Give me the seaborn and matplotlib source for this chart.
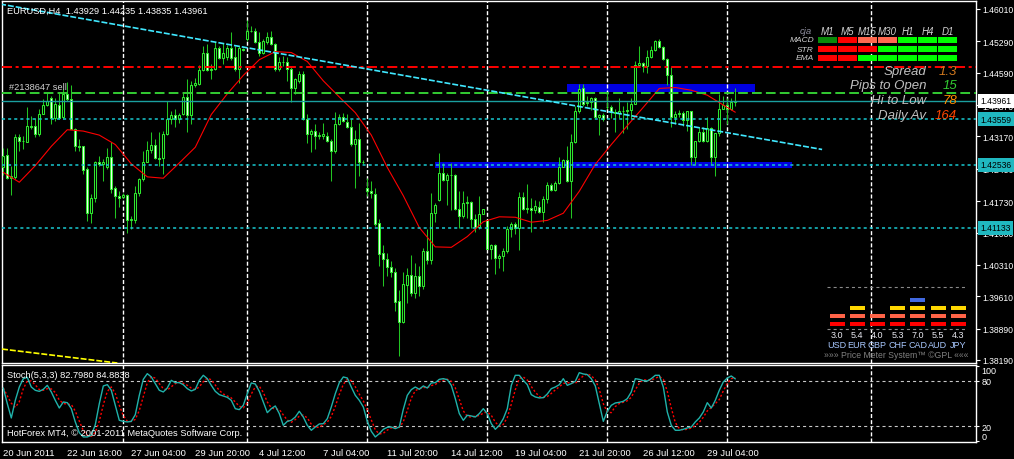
import matplotlib
matplotlib.use("Agg")
import matplotlib.pyplot as plt
import matplotlib.transforms as mtransforms
from matplotlib.patches import Rectangle
import numpy as np
import pandas as pd
import seaborn as sns

# ---------------------------------------------------------------------------
# EURUSD H4 candles, 20 Jun 2011 .. 1 Aug 2011 (prices x 10000)
# ---------------------------------------------------------------------------
opens = [
    14248, 14275, 14225, 14227, 14315, 14307, 14305, 14341, 14341, 14322,
    14368, 14388, 14402, 14359, 14388, 14361, 14411, 14400, 14333, 14296,
    14295, 14244, 14147, 14181, 14261, 14255, 14248, 14272, 14202, 14185,
    14183, 14187, 14130, 14130, 14192, 14222, 14260, 14287, 14298, 14268,
    14268, 14322, 14356, 14365, 14356, 14367, 14404, 14364, 14431, 14434,
    14465, 14502, 14465, 14467, 14515, 14491, 14493, 14513, 14493, 14467,
    14512, 14534, 14552, 14552, 14528, 14503, 14528, 14538, 14523, 14467,
    14482, 14483, 14467, 14426, 14441, 14456, 14356, 14322, 14330, 14318,
    14317, 14317, 14307, 14285, 14344, 14361, 14350, 14337, 14300, 14312,
    14259, 14203, 14196, 14188, 14124, 14057, 14045, 14027, 14014, 13950,
    13904, 13986, 14008, 13969, 14006, 13983, 14061, 14042, 14147, 14176,
    14235, 14220, 14231, 14231, 14156, 14140, 14168, 14172, 14134, 14116,
    14145, 14131, 14067, 14075, 14047, 14050, 14061, 14110, 14123, 14112,
    14183, 14156, 14158, 14153, 14160, 14149, 14177, 14208, 14198, 14213,
    14250, 14264, 14218, 14304, 14374, 14424, 14391, 14393, 14403, 14361,
    14364, 14382, 14382, 14372, 14369, 14374, 14373, 14375, 14390, 14476,
    14480, 14473, 14495, 14510, 14529, 14517, 14489, 14454, 14361, 14366,
    14370, 14354, 14373, 14272, 14306, 14328, 14308, 14336, 14272, 14324,
    14379, 14386, 14378, 14393,
]
highs = [
    14292, 14292, 14251, 14322, 14322, 14318, 14382, 14363, 14359, 14378,
    14400, 14416, 14408, 14402, 14415, 14422, 14439, 14431, 14335, 14311,
    14296, 14248, 14188, 14263, 14274, 14266, 14292, 14304, 14207, 14196,
    14192, 14188, 14140, 14207, 14225, 14285, 14307, 14326, 14311, 14326,
    14330, 14396, 14374, 14378, 14370, 14416, 14445, 14441, 14448, 14476,
    14519, 14523, 14478, 14528, 14519, 14526, 14520, 14550, 14519, 14519,
    14513, 14577, 14564, 14558, 14549, 14535, 14549, 14552, 14526, 14493,
    14497, 14493, 14471, 14448, 14463, 14463, 14367, 14333, 14344, 14326,
    14347, 14326, 14311, 14372, 14367, 14370, 14367, 14356, 14332, 14348,
    14265, 14225, 14218, 14203, 14134, 14075, 14058, 14040, 14023, 13975,
    14014, 14023, 14052, 14036, 14029, 14069, 14110, 14191, 14168, 14280,
    14257, 14235, 14257, 14233, 14196, 14196, 14185, 14173, 14144, 14185,
    14156, 14131, 14077, 14077, 14055, 14069, 14118, 14127, 14127, 14194,
    14194, 14211, 14179, 14176, 14173, 14185, 14216, 14214, 14218, 14272,
    14266, 14295, 14322, 14385, 14434, 14434, 14408, 14406, 14406, 14367,
    14370, 14413, 14387, 14378, 14403, 14385, 14393, 14402, 14486, 14519,
    14483, 14510, 14519, 14532, 14535, 14519, 14491, 14471, 14374, 14376,
    14374, 14373, 14374, 14307, 14337, 14337, 14361, 14337, 14324, 14411,
    14408, 14402, 14402, 14424,
]
lows = [
    14231, 14222, 14187, 14222, 14285, 14289, 14304, 14333, 14315, 14318,
    14367, 14385, 14344, 14352, 14356, 14356, 14396, 14333, 14285, 14285,
    14233, 14129, 14124, 14170, 14251, 14218, 14244, 14192, 14136, 14159,
    14181, 14103, 14110, 14125, 14185, 14218, 14259, 14281, 14266, 14251,
    14233, 14320, 14344, 14337, 14348, 14364, 14326, 14344, 14428, 14431,
    14463, 14463, 14445, 14465, 14489, 14478, 14488, 14488, 14463, 14437,
    14508, 14530, 14549, 14526, 14497, 14500, 14523, 14520, 14463, 14463,
    14474, 14441, 14394, 14411, 14437, 14354, 14302, 14283, 14289, 14311,
    14311, 14304, 14218, 14281, 14342, 14350, 14335, 14296, 14203, 14229,
    14255, 14185, 14179, 14118, 14029, 13983, 14006, 14003, 13928, 13829,
    13902, 13945, 13962, 13958, 13962, 13977, 14032, 14032, 14127, 14173,
    14218, 14164, 14153, 14153, 14112, 14136, 14136, 14112, 14104, 14110,
    14144, 14066, 14045, 14010, 14023, 14017, 14058, 14094, 14099, 14064,
    14153, 14147, 14104, 14147, 14147, 14127, 14168, 14196, 14196, 14211,
    14248, 14216, 14136, 14302, 14369, 14385, 14385, 14376, 14359, 14320,
    14352, 14378, 14359, 14327, 14359, 14324, 14333, 14356, 14389, 14471,
    14460, 14458, 14491, 14508, 14513, 14488, 14431, 14337, 14344, 14361,
    14341, 14330, 14253, 14253, 14304, 14305, 14305, 14253, 14228, 14317,
    14378, 14344, 14376, 14384,
]
closes = [
    14274, 14225, 14228, 14315, 14307, 14307, 14341, 14337, 14322, 14368,
    14388, 14396, 14359, 14389, 14359, 14411, 14400, 14333, 14296, 14294,
    14243, 14147, 14181, 14261, 14255, 14259, 14272, 14199, 14185, 14179,
    14186, 14130, 14133, 14192, 14222, 14260, 14286, 14298, 14268, 14266,
    14322, 14356, 14365, 14356, 14365, 14404, 14364, 14431, 14435, 14465,
    14502, 14465, 14468, 14515, 14491, 14502, 14513, 14491, 14467, 14513,
    14510, 14552, 14551, 14528, 14503, 14530, 14538, 14523, 14467, 14482,
    14484, 14467, 14426, 14445, 14456, 14356, 14322, 14330, 14317, 14321,
    14322, 14307, 14285, 14344, 14361, 14352, 14337, 14300, 14312, 14259,
    14260, 14196, 14191, 14121, 14055, 14043, 14026, 14014, 13948, 13904,
    13988, 14008, 13969, 14006, 13983, 14061, 14042, 14147, 14164, 14235,
    14220, 14231, 14231, 14156, 14140, 14168, 14172, 14134, 14116, 14145,
    14155, 14067, 14075, 14047, 14050, 14061, 14110, 14123, 14112, 14183,
    14156, 14158, 14153, 14161, 14149, 14177, 14208, 14198, 14213, 14250,
    14264, 14218, 14304, 14374, 14422, 14389, 14393, 14403, 14361, 14364,
    14356, 14383, 14372, 14369, 14374, 14373, 14375, 14390, 14476, 14480,
    14473, 14495, 14510, 14529, 14517, 14489, 14454, 14361, 14366, 14370,
    14354, 14373, 14272, 14306, 14328, 14308, 14336, 14272, 14324, 14379,
    14386, 14378, 14393, 14396,
]
last_quote = [1.43929, 1.44235, 1.43835, 1.43961]

# red moving average, read every 4th bar
ma_bars = list(range(0, 181, 4)) + [183]
ma_vals = [
    14237, 14215, 14252, 14295, 14332, 14329, 14320, 14299, 14256, 14227,
    14224, 14258, 14293, 14366, 14412, 14453, 14488, 14506, 14504, 14484,
    14441, 14405, 14370, 14320, 14248, 14185, 14114, 14071, 14070, 14094,
    14127, 14138, 14137, 14126, 14130, 14146, 14195, 14255, 14299, 14341,
    14382, 14424, 14426, 14420, 14409, 14387, 14371,
]

# Stoch(5,3,3) main line
stoch_main = [
    70.7, 49.8, 30.7, 54.2, 72.0, 83.1, 84.9, 72.0, 67.6, 66.2,
    68.9, 74.2, 65.4, 54.2, 44.0, 52.0, 51.1, 43.1, 25.4, 11.1,
    5.4, 5.4, 7.6, 21.8, 49.8, 73.4, 75.1, 67.6, 47.6, 27.6,
    26.2, 25.4, 26.2, 35.1, 60.9, 82.2, 89.8, 85.4, 76.5, 67.6,
    65.4, 70.7, 80.9, 77.8, 77.8, 75.1, 69.8, 66.7, 68.9, 80.9,
    87.6, 83.1, 74.2, 66.2, 61.8, 60.0, 58.2, 54.2, 43.1, 41.8,
    47.6, 63.1, 77.4, 76.0, 66.2, 52.0, 37.8, 43.1, 46.7, 36.5,
    20.9, 26.2, 27.6, 32.0, 39.6, 32.0, 20.9, 14.3, 18.7, 22.7,
    23.1, 29.8, 45.4, 63.1, 77.8, 85.4, 84.0, 72.0, 60.9, 54.2,
    45.4, 26.2, 12.9, 5.4, 9.8, 15.6, 18.2, 18.7, 16.5, 18.7,
    42.2, 60.9, 68.5, 72.0, 68.9, 73.4, 70.7, 77.4, 77.8, 82.2,
    83.1, 81.8, 74.2, 56.5, 36.5, 27.6, 34.3, 33.4, 32.0, 36.5,
    43.1, 36.5, 23.1, 15.6, 20.9, 29.8, 43.1, 74.2, 87.6, 87.6,
    80.9, 75.1, 61.8, 58.7, 57.4, 57.8, 62.7, 69.8, 72.0, 75.1,
    83.1, 74.2, 76.5, 79.6, 91.1, 89.4, 88.5, 83.1, 73.4, 49.8,
    26.2, 39.6, 47.6, 50.7, 51.6, 52.9, 56.5, 65.4, 83.1, 82.2,
    80.5, 80.0, 83.1, 87.6, 87.6, 72.0, 38.7, 20.9, 14.3, 14.3,
    15.6, 17.4, 18.7, 25.4, 30.7, 38.7, 51.1, 44.0, 54.2, 67.6,
    78.7, 84.0, 86.7, 82.8,
]

x_labels = ['20 Jun 2011', '22 Jun 16:00', '27 Jun 04:00', '29 Jun 20:00',
            '4 Jul 12:00', '7 Jul 04:00', '11 Jul 20:00', '14 Jul 12:00',
            '19 Jul 04:00', '21 Jul 20:00', '26 Jul 12:00', '29 Jul 04:00']
x_label_bars = [0, 16, 32, 48, 64, 80, 96, 112, 128, 144, 160, 176]
week_grid_bars = [30, 61, 91, 121, 151, 181, 217]

price_ticks = [1.46010, 1.45290, 1.44590, 1.43870, 1.43170, 1.42450,
               1.41730, 1.41030, 1.40310, 1.39610, 1.38890, 1.38190]

stop_level = 1.4471
order_level = 1.4413
bid_level = last_quote[3]
sr_levels = [1.43559, 1.42536, 1.41133]

# zones (bar from, bar to, price low, price high)
zones = [(140.9, 188.0, 1.4416, 1.4434), (107.9, 197.2, 1.4247, 1.4261)]
# trend lines (bar, price) pairs
trend_cyan = ([-0.8, 204.7], [1.4612, 1.4288])
trend_yellow = ([0.0, 26.0], [1.3843, 1.3815])

# multi timeframe panel
tf_names = ['M1', 'M5', 'M15', 'M30', 'H1', 'H4', 'D1']
mtf_rows = ['MACD', 'STR', 'EMA']
mtf_states = [
    ['up_weak', 'down', 'down_weak', 'down_weak', 'up', 'up', 'up'],
    ['down', 'down', 'down', 'up', 'up', 'up', 'up'],
    ['down', 'down', 'up', 'up', 'up', 'up', 'up'],
]
stat_labels = ['Spread', 'Pips to Open', 'Hi to Low', 'Daily Av']
stat_values = ['1.3', '15', '78', '164']

# price meter
currencies = ['USD', 'EUR', 'GBP', 'CHF', 'CAD', 'AUD', 'JPY']
strengths = [3.0, 5.4, 4.0, 5.3, 7.0, 5.5, 4.3]
meter_levels = [2, 3, 2, 3, 4, 3, 3]

# ---------------------------------------------------------------------------
sns.set_style("dark")
plt.rcParams['font.family'] = ['Liberation Sans', 'DejaVu Sans']
plt.rcParams['lines.scale_dashes'] = False

W, H = 1014, 460
fig = plt.figure(figsize=(W / 100, H / 100), dpi=100, facecolor='black')


def fig_rect(x0, y0, x1, y1):
    return [x0 / W, 1 - y1 / H, (x1 - x0) / W, (y1 - y0) / H]


ax = fig.add_axes(fig_rect(2, 2, 976, 364))
ax2 = fig.add_axes(fig_rect(2, 366, 976, 443))
xlim = (-0.325, 243.175)
for a in (ax, ax2):
    a.set_facecolor('black')
    a.set_xlim(*xlim)
    a.grid(False)
    for s in a.spines.values():
        s.set_color('white')
        s.set_linewidth(1.0)
    for b in week_grid_bars:
        a.axvline(b, color='white', lw=1.0, ls=(0, (2.9, 1.5)), zorder=1.5)

ax.set_ylim(1.38123, 1.46188)
ax2.set_ylim(-1.33, 101.33)

# zones behind the candles
for b0, b1, p0, p1 in zones:
    ax.add_patch(Rectangle((b0, p0), b1 - b0, p1 - p0, facecolor='#0000e0',
                           edgecolor='none', zorder=1))

o = np.array(opens) / 1e4
h = np.array(highs) / 1e4
lo = np.array(lows) / 1e4
c = np.array(closes) / 1e4
bars = np.arange(len(c))
bear = c < o
ax.vlines(bars, lo, h, color='#22c422', lw=0.75, zorder=3)
ax.bar(bars, np.abs(c - o), bottom=np.minimum(o, c), width=0.55,
       color=np.where(bear, '#f0fff0', '#000000'), edgecolor='#2ee82e',
       linewidth=0.75, zorder=3.1)

sns.lineplot(x=ma_bars, y=np.array(ma_vals) / 1e4, ax=ax, color='#ff0000',
             linewidth=0.8, zorder=3.5)

# horizontal levels
ax.axhline(stop_level, color='#ff0000', lw=1.4, ls=(0, (7.2, 2.6, 2.2, 2.6)), zorder=4)
ax.axhline(order_level, color='#33cc33', lw=1.4, ls=(0, (7.0, 3.0)), zorder=4)
ax.axhline(bid_level, color='#1a9f9f', lw=1.0, zorder=4)
for lv in sr_levels:
    ax.axhline(lv, color='#18c8d0', lw=1.1, ls=(0, (2.2, 2.2)), zorder=4)

ax.plot(trend_cyan[0], trend_cyan[1], color='#40e8ff', lw=1.2,
        ls=(0, (4.3, 1.4)), zorder=4)
ax.axline((trend_yellow[0][0], trend_yellow[1][0]),
          (trend_yellow[0][1], trend_yellow[1][1]), color='#ffff00', lw=1.2,
          ls=(0, (4.3, 1.4)), zorder=4)

ax.set_xlabel('')
ax.set_ylabel('')
ax.yaxis.tick_right()
ax.set_yticks(price_ticks)
ax.set_yticklabels([f'{t:.5f}' for t in price_ticks])
ax.tick_params(axis='y', colors='white', labelsize=6.2, length=3, width=0.8,
               pad=1.5, right=True, left=False)
ax.tick_params(axis='x', bottom=False, labelbottom=False)

# price boxes on the right scale
box_tr = mtransforms.blended_transform_factory(ax.transAxes, ax.transData)
ax.text(1.0045, bid_level, f'{bid_level:.5f}', transform=box_tr, ha='left',
        va='center', fontsize=6.2, color='black', clip_on=False, zorder=6,
        bbox=dict(boxstyle='square,pad=0.25', fc='white', ec='none'))
for lv in sr_levels:
    ax.text(1.0045, lv, f'{lv:.5f}', transform=box_tr, ha='left', va='center',
            fontsize=6.2, color='black', clip_on=False, zorder=6,
            bbox=dict(boxstyle='square,pad=0.25', fc='#20b8c0', ec='none'))

# stochastic panel
stoch = pd.DataFrame({'bar': np.arange(len(stoch_main)), 'main': stoch_main})
stoch['signal'] = stoch['main'].rolling(3, min_periods=1).mean()
ax2.axhline(80, color='#c8c8c8', lw=0.8, ls=(0, (2.2, 2.2)), zorder=1.5)
ax2.axhline(20, color='#c8c8c8', lw=0.8, ls=(0, (2.2, 2.2)), zorder=1.5)
sns.lineplot(data=stoch, x='bar', y='signal', ax=ax2, color='#ff0000',
             linewidth=1.0, linestyle=(0, (1.5, 1.5)), zorder=3)
sns.lineplot(data=stoch, x='bar', y='main', ax=ax2, color='#20b2aa',
             linewidth=1.0, zorder=3.2)
ax2.set_xlabel('')
ax2.set_ylabel('')
ax2.yaxis.tick_right()
ax2.set_yticks([0, 20, 80, 100])
ax2.set_yticklabels(['0', '20', '80', '100'])
ax2.tick_params(axis='y', colors='white', labelsize=6.5, length=2, width=0.8,
                pad=2, right=True, left=False)
ylabs = ax2.get_yticklabels()
ylabs[0].set_va('bottom')
ylabs[3].set_va('top')
ax2.set_xticks(x_label_bars)
ax2.set_xticklabels(x_labels, ha='left')
ax2.tick_params(axis='x', colors='white', labelsize=6.8, length=3, width=0.8,
                pad=1.5)

# ---------------------------------------------------------------------------
# screen overlay (pixel coordinates)
ov = fig.add_axes([0, 0, 1, 1], zorder=10)
ov.set_xlim(0, W)
ov.set_ylim(H, 0)
ov.axis('off')
ov.patch.set_alpha(0)

quote = ' '.join(f'{v:.5f}' for v in last_quote)
ov.text(7, 11, f'EURUSD,H4  {quote}', color='white', fontsize=6.7, va='center')
ov.text(9, 88, '#2138647 sell', color='#d0d0d0', fontsize=6.7, va='center')
ov.text(7, 376, 'Stoch(5,3,3) 82.7980 84.8838', color='white', fontsize=6.7,
        va='center')
ov.text(7, 434, 'HotForex MT4, \u00a9 2001-2011 MetaQuotes Software Corp.',
        color='white', fontsize=6.7, va='center')

state_colors = {'up': '#00ff00', 'up_weak': '#0a8a0a', 'down': '#ff0000',
                'down_weak': '#ff6a50'}
ov.text(812, 32, 'cja', color='#9090a0', fontsize=6.8, style='italic',
        ha='right', va='center')
for ci, name in enumerate(tf_names):
    ov.text(827.5 + 20 * ci, 32, name, color='#d0d0d0', fontsize=7,
            style='italic', ha='center', va='center')
for ri, row in enumerate(mtf_rows):
    ov.text(814, 41 + 9 * ri, row, color='#d0d0d0', fontsize=6,
            style='italic', ha='right', va='center')
    for ci, st in enumerate(mtf_states[ri]):
        ov.add_patch(Rectangle((818 + 20 * ci, 37.7 + 9 * ri), 19, 6.4,
                               facecolor=state_colors[st], edgecolor='none'))

stat_colors = ['#d2791e', '#32cd32', '#ff8c00', '#ff4500']
for i, (lab, val) in enumerate(zip(stat_labels, stat_values)):
    y = [72, 86, 101, 116][i]
    ov.text(926, y, lab, color='#c0c0c0', fontsize=9.5, style='italic',
            ha='right', va='center')
    ov.text(957, y, val, color=stat_colors[i], fontsize=9.5, style='italic',
            ha='right', va='center')

meter_colors = ['#ff0000', '#ff6347', '#ffd700', '#4169e1']
ov.plot([827, 966], [288, 288], color='#8a8a8a', lw=0.8, ls=(0, (2.2, 2.2)))
ov.plot([827, 966], [330, 330], color='#8a8a8a', lw=0.8, ls=(0, (2.2, 2.2)))
for i, (cur, val, lvl) in enumerate(zip(currencies, strengths, meter_levels)):
    cx = 837 + 20.2 * i
    for k in range(lvl):
        ov.add_patch(Rectangle((cx - 7.5, 322.5 - 8 * k), 15, 4.6,
                               facecolor=meter_colors[k], edgecolor='none'))
    ov.text(cx, 336, f'{val:.1f}', color='#e8e8f0', fontsize=6.5,
            ha='center', va='center')
    ov.text(cx, 346, cur, color='#a8c8ff', fontsize=6.5, ha='center',
            va='center')
ov.text(896, 356, '\u00bb\u00bb\u00bb Price Meter System\u2122 \u00a9GPL \u00ab\u00ab\u00ab',
        color='#808080', fontsize=6.2, ha='center', va='center')

fig.savefig('out.png', dpi=100, facecolor='black')
